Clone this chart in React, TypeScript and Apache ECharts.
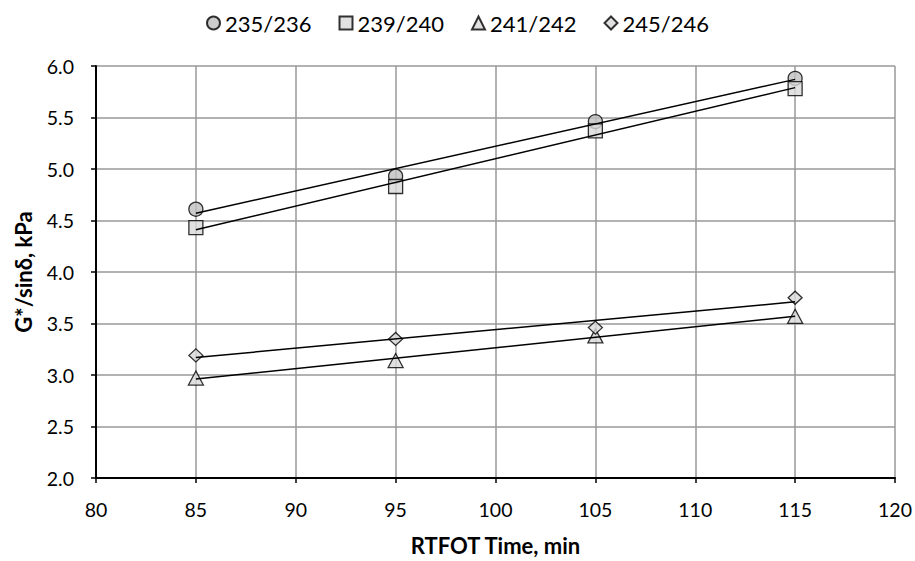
import React, { useEffect, useRef } from "react";
import * as echarts from "echarts";

const xValues = [85, 95, 105, 115];
const seriesNames = ["235/236", "239/240", "241/242", "245/246"];
const s235 = [4.61, 4.93, 5.46, 5.88];
const s239 = [4.43, 4.83, 5.37, 5.78];
const s241 = [2.97, 3.14, 3.38, 3.57];
const s245 = [3.19, 3.35, 3.46, 3.75];
// linear trendline end values (read at x = 85 and x = 115)
const trendX = [85, 115];
const trend235 = [4.57, 5.87];
const trend239 = [4.41, 5.79];
const trend241 = [2.96, 3.57];
const trend245 = [3.17, 3.71];

const FONT = "Lato, 'Open Sans', sans-serif";

export default function App() {
  const ref = useRef<HTMLDivElement>(null);
  useEffect(() => {
    if (!ref.current) return;
    const chart = echarts.init(ref.current, undefined, { renderer: "svg" });
    const values = [s235, s239, s241, s245];
    const trends = [trend235, trend239, trend241, trend245];
    const symbols = ["circle", "rect", "triangle", "diamond"];
    const sizes: any[] = [14, 14, [15, 14], [14, 13]];
    const fills = ["#bfbfbf", "#d9d9d9", "#d9d9d9", "#d9d9d9"];
    const scatter = seriesNames.map((name, i) => ({
      name,
      type: "scatter",
      symbol: symbols[i],
      symbolSize: sizes[i],
      itemStyle: { color: fills[i], borderColor: "#000", borderWidth: 1.3 },
      data: xValues.map((x, j) => [x, values[i][j]]),
      z: 3,
    }));
    const lines = trends.map((t) => ({
      type: "line",
      symbol: "none",
      silent: true,
      lineStyle: { color: "#000", width: 1.5 },
      data: trendX.map((x, j) => [x, t[j]]),
      z: 4,
    }));
    chart.setOption({
      animation: false,
      textStyle: { fontFamily: FONT },
      legend: {
        top: 7,
        left: "center",
        data: seriesNames,
        itemWidth: 13,
        itemHeight: 13,
        itemGap: 27,
        textStyle: { fontSize: 22, color: "#000", fontFamily: FONT },
      },
      grid: { left: 96, right: 20, top: 66, bottom: 81 },
      xAxis: {
        type: "value",
        min: 80,
        max: 120,
        interval: 5,
        name: "RTFOT Time, min",
        nameLocation: "middle",
        nameGap: 56,
        nameTextStyle: { fontSize: 22, fontWeight: "bold", color: "#000", fontFamily: FONT },
        axisLine: { show: true, lineStyle: { color: "#000", width: 2 } },
        axisTick: { show: true, length: 5, lineStyle: { color: "#000", width: 1.5 } },
        axisLabel: { fontSize: 19.5, color: "#000", margin: 21, fontFamily: FONT },
        splitLine: { show: true, lineStyle: { color: "#999", width: 1.5 } },
      },
      yAxis: {
        type: "value",
        min: 2,
        max: 6,
        interval: 0.5,
        name: "G*/sinδ, kPa",
        nameLocation: "middle",
        nameGap: 62,
        nameRotate: 90,
        nameTextStyle: { fontSize: 22, fontWeight: "bold", color: "#000", fontFamily: FONT },
        axisLine: { show: true, lineStyle: { color: "#000", width: 2 } },
        axisTick: { show: true, length: 5, lineStyle: { color: "#000", width: 1.5 } },
        axisLabel: {
          fontSize: 19.5,
          color: "#000",
          margin: 22,
          fontFamily: FONT,
          formatter: (v: number) => v.toFixed(1),
        },
        splitLine: { show: true, lineStyle: { color: "#999", width: 1.5 } },
      },
      series: [...scatter, ...lines],
    });
    return () => chart.dispose();
  }, []);
  return (
    <div
      ref={ref}
      style={{ position: "absolute", left: 0, top: 0, width: 915, height: 561 }}
    />
  );
}
